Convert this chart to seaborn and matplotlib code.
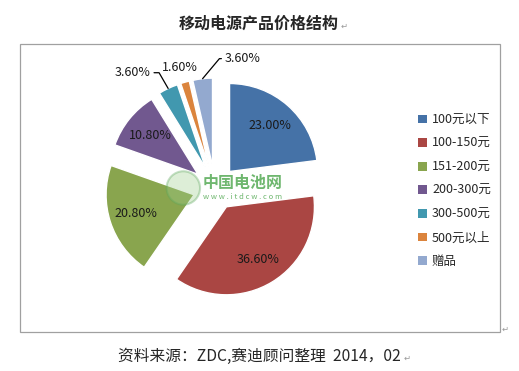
import matplotlib
matplotlib.use("Agg")
import matplotlib.pyplot as plt
import seaborn as sns
from matplotlib.patches import Rectangle, Patch, Circle
import numpy as np

# price segments and share (%)
categories = ['100元以下', '100-150元', '151-200元', '200-300元', '300-500元', '500元以上', '赠品']
shares = [23.0, 36.6, 20.8, 10.8, 3.6, 1.6, 3.6]
colors = ['#4572A7', '#AA4643', '#89A54E', '#71588F', '#4198AF', '#DB843D', '#93A9CF']

title = '移动电源产品价格结构'
source = '资料来源：ZDC,赛迪顾问整理  2014，02'

sns.set_style('white')
plt.rcParams['font.family'] = ['Noto Sans CJK SC', 'DejaVu Sans']

fig = plt.figure(figsize=(5.19, 3.71), dpi=100)

# chart frame
fig.patches.append(Rectangle((20 / 519, 1 - 332 / 371), 480 / 519, 288 / 371,
                             transform=fig.transFigure, fill=False,
                             edgecolor='#A0A0A0', lw=0.9))

ax = fig.add_axes([83 / 519, 51 / 371, 264 / 519, 264 / 371])

wedges, _, autotexts = ax.pie(
    shares, colors=colors, explode=[0.25] * len(shares), startangle=90,
    counterclock=False, pctdistance=0.7,
    autopct=lambda p: f'{p:.2f}%' if p >= 10 else '',
    textprops=dict(fontsize=9, color='#1a1a1a'))

# pie() resets the limits, so fix them afterwards
ax.set_xlim(-1.5, 1.5)
ax.set_ylim(-1.5, 1.5)
ax.set_aspect('equal')
ax.axis('off')

# outside labels for the small slices: text position, align, leader line angle
label_pos = {4: (-0.73, 1.31, 'right', 120), 5: (-0.40, 1.37, 'center', None),
             6: (0.11, 1.47, 'left', 50)}
for i, (tx, ty, ha, ang) in label_pos.items():
    w = wedges[i]
    mid = np.deg2rad((w.theta1 + w.theta2) / 2)
    cx, cy = w.center
    px, py = cx + np.cos(mid), cy + np.sin(mid)
    arrow = None
    if ang is not None:
        arrow = dict(arrowstyle='-', color='black', lw=0.9, shrinkA=0, shrinkB=0,
                     connectionstyle=f'angle,angleA=0,angleB={ang},rad=0')
    ax.annotate(f'{shares[i]:.2f}%', xy=(px, py), xytext=(tx, ty),
                ha=ha, va='center', fontsize=9, color='#1a1a1a',
                arrowprops=arrow)

# faint watermark
ax.add_patch(Circle((-0.36, 0.0), 0.19, facecolor='#9fcf8f', edgecolor='#5aa55a',
                    alpha=0.35, lw=1.5, zorder=5))
ax.text(0.31, 0.06, '中国电池网', ha='center', va='center', fontsize=11.5,
        fontweight='bold', color='#3f9f3f', alpha=0.75, zorder=6)
ax.text(0.31, -0.10, 'w w w . i t d c w . c o m', ha='center', va='center',
        fontsize=5.5, color='#3f9f3f', alpha=0.75, zorder=6)

handles = [Patch(facecolor=c, edgecolor='none') for c in colors]
fig.legend(handles, categories, loc='upper left',
           bbox_to_anchor=(412 / 519, 1 - 107 / 371), frameon=False,
           fontsize=9, handlelength=0.7, handleheight=0.7,
           handletextpad=0.4, labelspacing=0.85, borderpad=0)

fig.text(259 / 519, 1 - 24 / 371, title, ha='center', va='center',
         fontsize=11.5, fontweight='bold')
fig.text(341 / 519, 1 - 26 / 371, '↵', ha='left', va='center', fontsize=6,
         color='#999999', family='DejaVu Sans')
fig.text(259 / 519, 1 - 356 / 371, source, ha='center', va='center', fontsize=11.3)
fig.text(404 / 519, 1 - 358 / 371, '↵', ha='left', va='center', fontsize=6,
         color='#999999', family='DejaVu Sans')
fig.text(502 / 519, 1 - 329 / 371, '↵', ha='left', va='center', fontsize=6,
         color='#999999', family='DejaVu Sans')

fig.savefig('out.png', dpi=100)
